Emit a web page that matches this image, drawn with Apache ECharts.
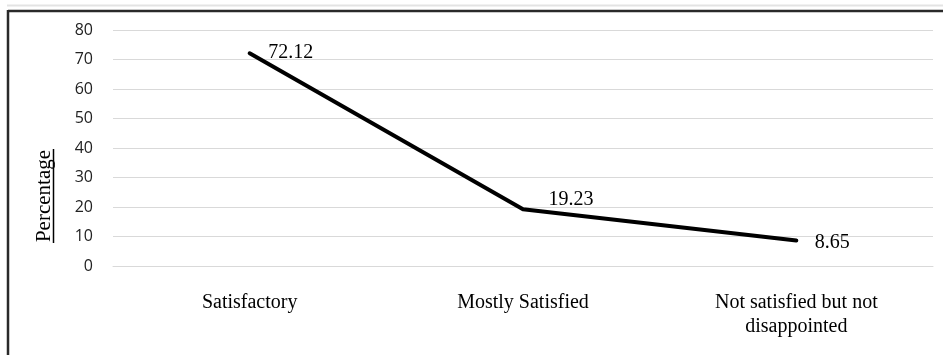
<!DOCTYPE html>
<html>
<head>
<meta charset="utf-8">
<script src="https://cdn.jsdelivr.net/npm/echarts@6/dist/echarts.min.js"></script>
<style>
  html, body { margin: 0; padding: 0; background: #fff; }
  #chart { width: 943px; height: 355px; }
</style>
</head>
<body>
<div id="chart"></div>
<script>
// Satisfaction levels and their share of respondents (%)
const categories = ['Satisfactory', 'Mostly Satisfied', 'Not satisfied but not\ndisappointed'];
const percentages = [72.12, 19.23, 8.65];
const yTicks = { min: 0, max: 80, interval: 10 };
const yTitle = 'Percentage';

// Per-point placement of the value labels
const labelPlacement = [
  { distance: 18, offset: [0, 0] },
  { distance: 25, offset: [0, -10] },
  { distance: 18, offset: [0, 2] }
];

const serif = '"Liberation Serif", "Times New Roman", serif';
const sans = '"Open Sans", "Liberation Sans", sans-serif';

const chart = echarts.init(document.getElementById('chart'), null, { renderer: 'canvas' });

chart.setOption({
  animation: false,
  backgroundColor: '#ffffff',
  grid: { left: 113, right: 10, top: 30, bottom: 89, containLabel: false },
  xAxis: {
    type: 'category',
    data: categories,
    boundaryGap: true,
    axisLine: { show: true, lineStyle: { color: '#d9d9d9', width: 1 } },
    axisTick: { show: false },
    axisLabel: {
      interval: 0,
      margin: 25,
      color: '#000',
      fontFamily: serif,
      fontSize: 20,
      lineHeight: 24
    }
  },
  yAxis: {
    type: 'value',
    min: yTicks.min,
    max: yTicks.max,
    interval: yTicks.interval,
    axisLine: { show: false },
    axisTick: { show: false },
    splitLine: { lineStyle: { color: '#d9d9d9', width: 1 } },
    axisLabel: {
      margin: 20,
      color: '#222',
      fontFamily: sans,
      fontSize: 16
    }
  },
  series: [{
    type: 'line',
    data: percentages.map((v, i) => ({
      value: v,
      label: {
        show: true,
        position: 'right',
        distance: labelPlacement[i].distance,
        offset: labelPlacement[i].offset
      }
    })),
    // invisible markers so the value labels have an anchor
    showSymbol: true,
    symbol: 'circle',
    symbolSize: 1,
    itemStyle: { color: 'rgba(0,0,0,0)', borderWidth: 0 },
    lineStyle: { color: '#000', width: 4, cap: 'round', join: 'round' },
    label: {
      show: true,
      color: '#000',
      fontFamily: serif,
      fontSize: 20,
      formatter: p => p.value.toFixed(2)
    },
    z: 5
  }],
  graphic: [
    // outer frame
    { type: 'line', shape: { x1: 7, y1: 5.5, x2: 943, y2: 5.5 }, style: { stroke: '#e3e3e3', lineWidth: 2 }, silent: true },
    { type: 'line', shape: { x1: 8, y1: 11, x2: 943, y2: 11 }, style: { stroke: '#2a2a2a', lineWidth: 2.5 }, silent: true },
    { type: 'line', shape: { x1: 8, y1: 10, x2: 8, y2: 355 }, style: { stroke: '#2a2a2a', lineWidth: 2.5 }, silent: true },
    // axis title, rotated and underlined
    {
      type: 'text',
      x: 44, y: 196,
      rotation: Math.PI / 2,
      style: {
        text: yTitle,
        font: '21px ' + serif,
        fill: '#000',
        align: 'center',
        verticalAlign: 'middle'
      },
      silent: true
    },
    { type: 'line', shape: { x1: 53.5, y1: 149, x2: 53.5, y2: 243 }, style: { stroke: '#000', lineWidth: 1.5 }, silent: true }
  ]
});
</script>
</body>
</html>
